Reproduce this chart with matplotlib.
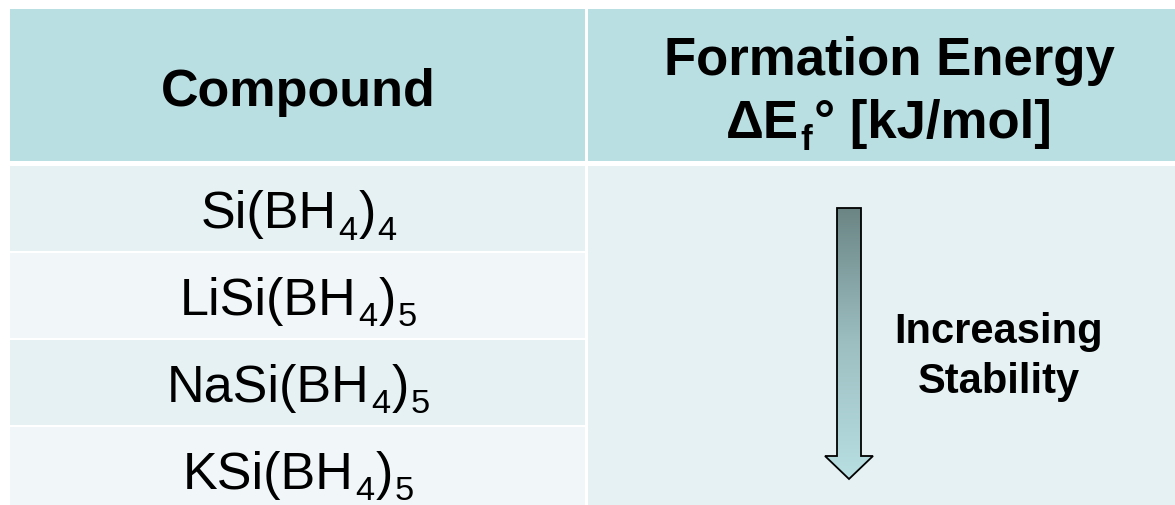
import numpy as np
import matplotlib
matplotlib.use("Agg")
import matplotlib.pyplot as plt
from matplotlib.patches import Rectangle, Polygon
from matplotlib.colors import LinearSegmentedColormap

plt.rcParams['font.family'] = ['Liberation Sans', 'DejaVu Sans']

# ---- data ----
header_left = "Compound"
header_right_line1 = "Formation Energy"
header_right_line2 = [("ΔE", False), ("f", True), ("° [kJ/mol]", False)]
compounds = [
    [("Si(BH", False), ("4", True), (")", False), ("4", True)],
    [("LiSi(BH", False), ("4", True), (")", False), ("5", True)],
    [("NaSi(BH", False), ("4", True), (")", False), ("5", True)],
    [("KSi(BH", False), ("4", True), (")", False), ("5", True)],
]
arrow_label = ["Increasing", "Stability"]

# ---- styling / layout ----
W, H = 1175, 506
header_color = "#BADFE2"
row_colors = ["#E6F1F3", "#F1F7F9"]
merged_color = "#E6F1F3"
left, col_split, right = 10, 586, 1196
top, header_h, gap = 10, 152, 6
row_h, row_gap = 85, 2

fig = plt.figure(figsize=(W / 100, H / 100), dpi=100)
ax = fig.add_axes([0, 0, 1, 1])
ax.set_xlim(0, W)
ax.set_ylim(H, 0)
ax.axis('off')
renderer = fig.canvas.get_renderer()


def draw_formula(xc, y_base, segments, size, sub_scale=0.66, drop=12, weight='normal', pad=1.5):
    """Draw a run of text with subscripts, centred at xc, baseline y_base (pixels)."""
    items = []
    for txt, is_sub in segments:
        fs = size * sub_scale if is_sub else size
        t = ax.text(0, y_base + (drop if is_sub else 0), txt, ha='left', va='baseline',
                    fontsize=fs, fontweight=weight, color='black')
        w = t.get_window_extent(renderer).width
        items.append((t, w))
    total = sum(w for _, w in items) + pad * (len(items) - 1)
    x = xc - total / 2
    for t, w in items:
        t.set_x(x)
        x += w + pad


sep = 1.5
ax.add_patch(Rectangle((left, top), col_split - sep - left, header_h, color=header_color, lw=0))
ax.add_patch(Rectangle((col_split + sep, top), right - col_split - sep, header_h,
                       color=header_color, lw=0))
cx_left, cx_right = 298.5, 889
ax.text(cx_left, 106, header_left, ha='center', va='baseline',
        fontsize=37.5, fontweight='bold', color='black')
ax.text(cx_right, 75, header_right_line1, ha='center', va='baseline',
        fontsize=38, fontweight='bold', color='black')
draw_formula(cx_right, 138, header_right_line2, 38, sub_scale=0.66, drop=12, weight='bold')

body_top = top + header_h + gap - 1
for i, segs in enumerate(compounds):
    y0 = body_top + i * (row_h + row_gap)
    ax.add_patch(Rectangle((left, y0), col_split - sep - left, row_h,
                           color=row_colors[i % 2], lw=0))
    draw_formula(cx_left, y0 + 61, segs, 37.5, drop=11.5)

n = len(compounds)
body_h = n * row_h + (n - 1) * row_gap
ax.add_patch(Rectangle((col_split + sep, body_top), right - col_split - sep, body_h,
                       color=merged_color, lw=0))

# gradient arrow
acx, shaft_w, head_w = 849, 24, 48
a_top, shaft_end, tip = 209, 457, 480
verts = [(acx - shaft_w / 2, a_top), (acx + shaft_w / 2, a_top),
         (acx + shaft_w / 2, shaft_end), (acx + head_w / 2, shaft_end),
         (acx, tip), (acx - head_w / 2, shaft_end),
         (acx - shaft_w / 2, shaft_end)]
ax.add_patch(Polygon(verts, closed=True, facecolor='none', edgecolor='black', lw=1.3, zorder=4))
cmap = LinearSegmentedColormap.from_list('arr', ["#6B8584", "#9DBFC2", "#B8DFE2"])
grad = np.linspace(0, 1, 256).reshape(-1, 1)
im = ax.imshow(grad, cmap=cmap, extent=(acx - head_w / 2, acx + head_w / 2, tip, a_top),
               origin='upper', aspect='auto', zorder=3)
im.set_clip_path(Polygon(verts, closed=True, transform=ax.transData))
ax.set_xlim(0, W)
ax.set_ylim(H, 0)

for k, line in enumerate(arrow_label):
    ax.text(998.5, 343 + 50 * k, line, ha='center', va='baseline', fontsize=30,
            fontweight='bold', color='black')

fig.savefig("out.png", dpi=100, facecolor='white')
